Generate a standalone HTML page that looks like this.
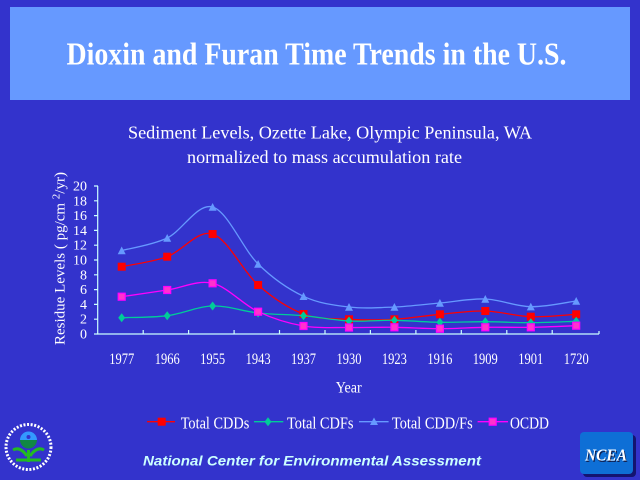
<!DOCTYPE html>
<html><head><meta charset="utf-8"><style>
html,body{margin:0;padding:0;background:#3333CC;}
svg{display:block;}
</style></head><body>
<svg width="640" height="480" viewBox="0 0 640 480" xmlns="http://www.w3.org/2000/svg">
<rect x="0" y="0" width="640" height="480" fill="#3333CC"/>
<rect x="10" y="7" width="620" height="93" fill="#6699FF"/>
<text x="66.5" y="64.3" font-family="Liberation Serif, serif" font-weight="bold" font-size="32" fill="#FFFFFF" textLength="500" lengthAdjust="spacingAndGlyphs">Dioxin and Furan Time Trends in the U.S.</text>
<g font-family="Liberation Serif, serif" fill="#FFFFFF">
<text x="128" y="138.3" font-size="18" textLength="404" lengthAdjust="spacingAndGlyphs">Sediment Levels, Ozette Lake, Olympic Peninsula, WA</text>
<text x="187" y="163" font-size="18" textLength="275" lengthAdjust="spacingAndGlyphs">normalized to mass accumulation rate</text>
</g>
<!-- axes -->
<g stroke="#CCFFFF" stroke-width="1.2" fill="none">
<line x1="97.7" y1="186" x2="97.7" y2="334.5"/>
<line x1="97.7" y1="334" x2="599" y2="334"/>
<path d="M94 334H98M94 319.2H98M94 304.4H98M94 289.6H98M94 274.8H98M94 260H98M94 245.2H98M94 230.4H98M94 215.6H98M94 200.8H98M94 186H98"/>
<path d="M143.2 330V334M188.6 330V334M234.1 330V334M279.5 330V334M325 330V334M370.4 330V334M415.9 330V334M461.3 330V334M506.8 330V334M552.2 330V334M599 331V334"/>
</g>
<g font-family="Liberation Serif, serif" font-size="14" fill="#FFFFFF" text-anchor="end">
<text x="87" y="338.5">0</text><text x="87" y="323.7">2</text><text x="87" y="308.9">4</text><text x="87" y="294.1">6</text><text x="87" y="279.3">8</text><text x="87" y="264.5">10</text><text x="87" y="249.7">12</text><text x="87" y="234.9">14</text><text x="87" y="220.1">16</text><text x="87" y="205.3">18</text><text x="87" y="190.5">20</text>
</g>
<g font-family="Liberation Serif, serif" font-size="16" fill="#FFFFFF">
<text x="109.2" y="364" textLength="25" lengthAdjust="spacingAndGlyphs">1977</text>
<text x="154.7" y="364" textLength="25" lengthAdjust="spacingAndGlyphs">1966</text>
<text x="200.1" y="364" textLength="25" lengthAdjust="spacingAndGlyphs">1955</text>
<text x="245.6" y="364" textLength="25" lengthAdjust="spacingAndGlyphs">1943</text>
<text x="291" y="364" textLength="25" lengthAdjust="spacingAndGlyphs">1937</text>
<text x="336.5" y="364" textLength="25" lengthAdjust="spacingAndGlyphs">1930</text>
<text x="381.9" y="364" textLength="25" lengthAdjust="spacingAndGlyphs">1923</text>
<text x="427.4" y="364" textLength="25" lengthAdjust="spacingAndGlyphs">1916</text>
<text x="472.8" y="364" textLength="25" lengthAdjust="spacingAndGlyphs">1909</text>
<text x="518.3" y="364" textLength="25" lengthAdjust="spacingAndGlyphs">1901</text>
<text x="563.7" y="364" textLength="25" lengthAdjust="spacingAndGlyphs">1720</text>
<text x="335.7" y="392.5" textLength="26" lengthAdjust="spacingAndGlyphs">Year</text>
</g>
<text transform="translate(64.5,345) rotate(-90)" font-family="Liberation Serif, serif" font-size="15" fill="#FFFFFF" textLength="173" lengthAdjust="spacingAndGlyphs">Residue Levels (  pg/cm <tspan font-size="11" dy="-5">2</tspan><tspan dy="5">/yr)</tspan></text>

<!-- Series 1: Total CDDs -->
<path fill="none" stroke="#FF0000" stroke-width="1.3" d="M121.7,266.7 C129.3,265.0 152.05,262.15 167.2,256.7 C182.35,251.25 197.45,229.28 212.6,234 C227.75,238.7 242.95,271.67 258.1,285 C273.25,298.33 288.35,308.28 303.5,314 C318.65,319.72 333.85,318.42 349,319.3 C364.15,320.18 379.25,320.13 394.4,319.3 C409.55,318.47 424.75,315.68 439.9,314.3 C455.05,312.92 470.15,310.6 485.3,311 C500.45,311.4 515.65,316.15 530.8,316.7 C545.95,317.25 568.6,314.7 576.2,314.3"/>
<g fill="#FF0000">
<rect x="117.7" y="262.7" width="8" height="8"/><rect x="163.2" y="252.7" width="8" height="8"/><rect x="208.6" y="230" width="8" height="8"/><rect x="254.1" y="281" width="8" height="8"/><rect x="299.5" y="310" width="8" height="8"/><rect x="345" y="315.3" width="8" height="8"/><rect x="390.4" y="315.3" width="8" height="8"/><rect x="435.9" y="310.3" width="8" height="8"/><rect x="481.3" y="307" width="8" height="8"/><rect x="526.8" y="312.7" width="8" height="8"/><rect x="572.2" y="310.3" width="8" height="8"/>
</g>
<!-- Series 2: Total CDFs -->
<path fill="none" stroke="#00CC99" stroke-width="1.3" d="M121.7,317.7 C129.3,317.4 152.05,317.65 167.2,315.7 C182.35,313.75 197.45,306.45 212.6,306 C227.75,305.55 242.95,311.38 258.1,313 C273.25,314.62 288.35,314.37 303.5,315.7 C318.65,317.03 333.85,320.23 349,321 C364.15,321.77 379.25,320.08 394.4,320.3 C409.55,320.52 424.75,322.07 439.9,322.3 C455.05,322.53 470.15,321.63 485.3,321.7 C500.45,321.77 515.65,322.77 530.8,322.7 C545.95,322.63 568.6,321.53 576.2,321.3"/>
<g fill="#00CC99">
<polygon points="121.7,313.2 125.2,317.7 121.7,322.2 118.2,317.7"/>
<polygon points="167.2,311.2 170.7,315.7 167.2,320.2 163.7,315.7"/>
<polygon points="212.6,301.5 216.1,306 212.6,310.5 209.1,306"/>
<polygon points="258.1,308.5 261.6,313 258.1,317.5 254.6,313"/>
<polygon points="303.5,311.2 307,315.7 303.5,320.2 300,315.7"/>
<polygon points="349,316.5 352.5,321 349,325.5 345.5,321"/>
<polygon points="394.4,315.8 397.9,320.3 394.4,324.8 390.9,320.3"/>
<polygon points="439.9,317.8 443.4,322.3 439.9,326.8 436.4,322.3"/>
<polygon points="485.3,317.2 488.8,321.7 485.3,326.2 481.8,321.7"/>
<polygon points="530.8,318.2 534.3,322.7 530.8,327.2 527.3,322.7"/>
<polygon points="576.2,316.8 579.7,321.3 576.2,325.8 572.7,321.3"/>
</g>
<!-- Series 3: Total CDD/Fs -->
<path fill="none" stroke="#6699FF" stroke-width="1.3" d="M121.7,250.5 C129.3,248.42 152.05,245.25 167.2,238 C182.35,230.75 197.45,202.67 212.6,207 C227.75,211.33 242.95,249.12 258.1,264 C273.25,278.88 288.35,289.13 303.5,296.3 C318.65,303.47 333.85,305.22 349,307 C364.15,308.78 379.25,307.67 394.4,307 C409.55,306.33 424.75,304.33 439.9,303 C455.05,301.67 470.15,298.38 485.3,299 C500.45,299.62 515.65,306.37 530.8,306.7 C545.95,307.03 568.6,301.95 576.2,301"/>
<g fill="#6699FF">
<polygon points="121.7,246.5 125.7,254.2 117.7,254.2"/>
<polygon points="167.2,234 171.2,241.7 163.2,241.7"/>
<polygon points="212.6,203 216.6,210.7 208.6,210.7"/>
<polygon points="258.1,260 262.1,267.7 254.1,267.7"/>
<polygon points="303.5,292.3 307.5,300 299.5,300"/>
<polygon points="349,303 353,310.7 345,310.7"/>
<polygon points="394.4,303 398.4,310.7 390.4,310.7"/>
<polygon points="439.9,299 443.9,306.7 435.9,306.7"/>
<polygon points="485.3,295 489.3,302.7 481.3,302.7"/>
<polygon points="530.8,302.7 534.8,310.4 526.8,310.4"/>
<polygon points="576.2,297 580.2,304.7 572.2,304.7"/>
</g>
<!-- Series 4: OCDD -->
<path fill="none" stroke="#FF00FF" stroke-width="1.3" d="M121.7,296.7 C129.3,295.58 152.05,292.23 167.2,290 C182.35,287.77 197.45,279.68 212.6,283.3 C227.75,286.92 242.95,304.58 258.1,311.7 C273.25,318.82 288.35,323.37 303.5,326 C318.65,328.63 333.85,327.28 349,327.5 C364.15,327.72 379.25,327.1 394.4,327.3 C409.55,327.5 424.75,328.7 439.9,328.7 C455.05,328.7 470.15,327.53 485.3,327.3 C500.45,327.07 515.65,327.57 530.8,327.3 C545.95,327.03 568.6,325.97 576.2,325.7"/>
<g fill="#FF33CC" stroke="#FF00FF" stroke-width="1.2">
<rect x="118.2" y="293.2" width="7" height="7"/><rect x="163.7" y="286.5" width="7" height="7"/><rect x="209.1" y="279.8" width="7" height="7"/><rect x="254.6" y="308.2" width="7" height="7"/><rect x="300" y="322.5" width="7" height="7"/><rect x="345.5" y="324" width="7" height="7"/><rect x="390.9" y="323.8" width="7" height="7"/><rect x="436.4" y="325.2" width="7" height="7"/><rect x="481.8" y="323.8" width="7" height="7"/><rect x="527.3" y="323.8" width="7" height="7"/><rect x="572.7" y="322.2" width="7" height="7"/>
</g>

<!-- Legend -->
<line x1="147" y1="421.7" x2="175" y2="421.7" stroke="#FF0000" stroke-width="1.3"/>
<rect x="157.7" y="417.7" width="8" height="8" fill="#FF0000"/>
<line x1="254" y1="421.7" x2="283.3" y2="421.7" stroke="#00CC99" stroke-width="1.3"/>
<polygon points="268,417.2 271.5,421.7 268,426.2 264.5,421.7" fill="#00CC99"/>
<line x1="359" y1="421.7" x2="388.6" y2="421.7" stroke="#6699FF" stroke-width="1.3"/>
<polygon points="374,417.5 378,425 370,425" fill="#6699FF"/>
<line x1="477.6" y1="421.7" x2="508" y2="421.7" stroke="#FF00FF" stroke-width="1.3"/>
<rect x="489.2" y="418.2" width="7" height="7" fill="#FF33CC" stroke="#FF00FF" stroke-width="1.2"/>
<g font-family="Liberation Serif, serif" font-size="16.5" fill="#FFFFFF">
<text x="180.7" y="428.3" textLength="68.6" lengthAdjust="spacingAndGlyphs">Total CDDs</text>
<text x="287" y="428.3" textLength="66.5" lengthAdjust="spacingAndGlyphs">Total CDFs</text>
<text x="392" y="428.3" textLength="80.7" lengthAdjust="spacingAndGlyphs">Total CDD/Fs</text>
<text x="510" y="428.3" textLength="39" lengthAdjust="spacingAndGlyphs">OCDD</text>
</g>

<!-- Footer -->
<text x="143" y="465.3" font-family="Liberation Sans, sans-serif" font-weight="bold" font-style="italic" font-size="14" fill="#CCFFFF" textLength="338" lengthAdjust="spacingAndGlyphs">National Center for Environmental Assessment</text>

<!-- EPA logo -->
<circle cx="28.5" cy="447" r="22.5" fill="none" stroke="#FFFFFF" stroke-width="3" stroke-dasharray="2 1.6"/>
<path d="M13,450 Q20,446 27,456 M44,450 Q37,446 30,456 M28.5,450 V462 M16,460 H41" stroke="#22BB22" stroke-width="3" fill="none"/>
<path d="M20,440 A8.5,8.5 0 0 1 37,440 Z" fill="#3399FF"/>
<path d="M20,440 A8.5,8.5 0 0 0 37,440 Z" fill="#118844"/>
<circle cx="28.5" cy="437" r="2" fill="#3333CC"/>

<!-- NCEA box -->
<rect x="583" y="435" width="53" height="42" rx="4" fill="#141470"/>
<rect x="580" y="432" width="53" height="42" rx="4" fill="#0E6FD6"/>
<text x="586" y="462" font-family="Liberation Serif, serif" font-weight="bold" font-style="italic" font-size="17" fill="#102050" textLength="42" lengthAdjust="spacingAndGlyphs">NCEA</text>
<text x="585" y="460.7" font-family="Liberation Serif, serif" font-weight="bold" font-style="italic" font-size="17" fill="#FFFFFF" textLength="42" lengthAdjust="spacingAndGlyphs">NCEA</text>
</svg>
</body></html>
